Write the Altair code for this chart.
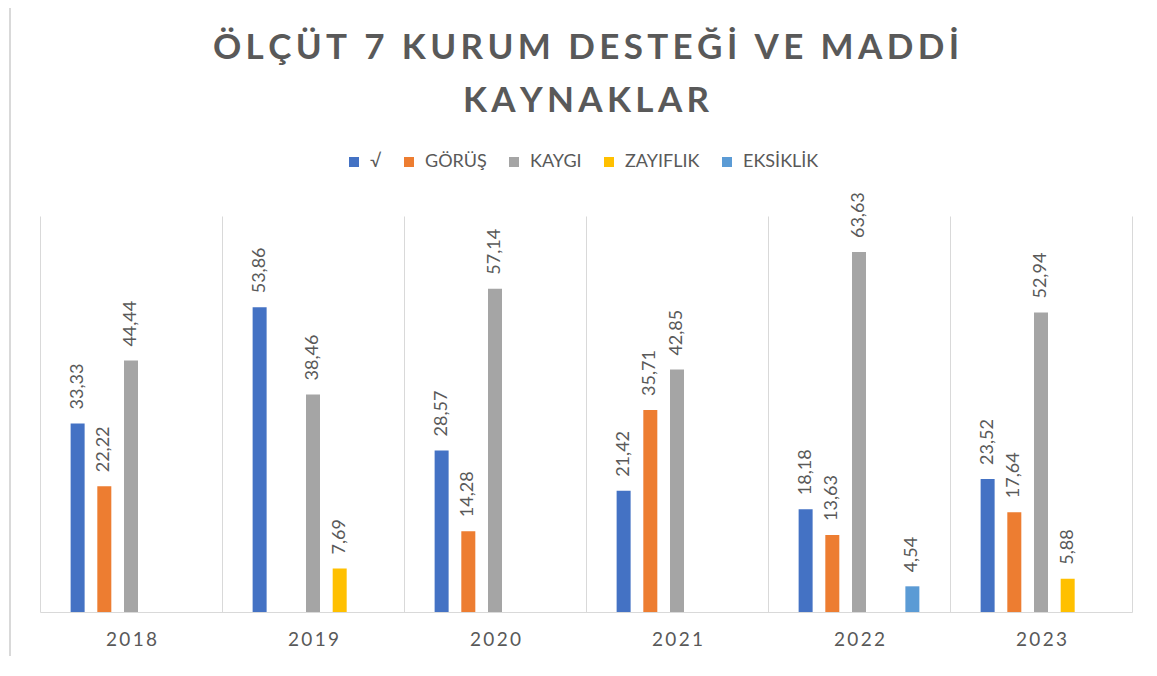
import altair as alt
import pandas as pd

years = ["2018", "2019", "2020", "2021", "2022", "2023"]
series = ["√", "GÖRÜŞ", "KAYGI", "ZAYIFLIK", "EKSİKLİK"]
colors = ["#4472C4", "#ED7D31", "#A5A5A5", "#FFC000", "#5B9BD5"]
title_lines = ["ÖLÇÜT 7 KURUM DESTEĞİ VE MADDİ", "KAYNAKLAR"]

v_check = [33.33, 53.86, 28.57, 21.42, 18.18, 23.52]
v_gorus = [22.22, None, 14.28, 35.71, 13.63, 17.64]
v_kaygi = [44.44, 38.46, 57.14, 42.85, 63.63, 52.94]
v_zayif = [None, 7.69, None, None, None, 5.88]
v_eksik = [None, None, None, None, 4.54, None]

rows = []
for s, vals in zip(series, [v_check, v_gorus, v_kaygi, v_zayif, v_eksik]):
    for y, v in zip(years, vals):
        if v is not None:
            rows.append({"year": y, "series": s, "value": v,
                         "label": f"{v:.2f}".replace(".", ",")})
df = pd.DataFrame(rows)

W, H = 1092, 396
FONT = "Lato"
GRAY = "#595959"
THIN = "\u2009"

spaced_title = [THIN.join(list(t)) for t in title_lines]

base = alt.Chart(df).encode(
    x=alt.X("year:N", sort=years,
            scale=alt.Scale(paddingInner=0, paddingOuter=0),
            axis=alt.Axis(title=None, labelAngle=0, tickBand="extent", grid=True,
                          gridColor="#d9d9d9", gridWidth=1, ticks=False,
                          domainColor="#d9d9d9", domainWidth=1,
                          labelFont=FONT, labelFontSize=19, labelColor=GRAY,
                          labelPadding=18,
                          labelExpr="join(split(datum.label, ''), '\u2009')")),
    xOffset=alt.XOffset("series:N", sort=series,
                        scale=alt.Scale(domain=series, paddingInner=0.18, paddingOuter=1)),
    y=alt.Y("value:Q", scale=alt.Scale(domain=[0, 70], nice=False), axis=None),
)

bars = base.mark_bar(width=14).encode(
    color=alt.Color("series:N", sort=series,
                    scale=alt.Scale(domain=series, range=colors),
                    legend=alt.Legend(title=None, orient="none", direction="horizontal",
                                      legendX=305, legendY=-63,
                                      symbolType="square", symbolSize=100,
                                      symbolStrokeWidth=0, labelFont=FONT,
                                      labelFontSize=18, labelColor=GRAY,
                                      labelOffset=7, columnPadding=18))
)

labels = base.mark_text(angle=270, align="left", baseline="middle", dx=14,
                        font=FONT, fontSize=18, color=GRAY).encode(text="label:N")

frame = alt.Chart(pd.DataFrame({"k": [0]})).mark_rule(color="#d9d9d9", strokeWidth=2).encode(
    x=alt.value(-30), y=alt.value(-208), y2=alt.value(H + 44))

chart = alt.layer(frame, bars, labels).properties(
    width=W, height=H,
    title=alt.Title(spaced_title,
                    font=FONT, fontSize=35, fontWeight="bold", color=GRAY,
                    anchor="middle", lineHeight=53, offset=-112),
    autosize=alt.AutoSizeParams(type="none"),
    padding={"left": 32, "top": 208, "right": 15, "bottom": 44},
).configure_view(stroke=None)

chart.save("out.html", embed_options={"renderer": "svg", "actions": False})
